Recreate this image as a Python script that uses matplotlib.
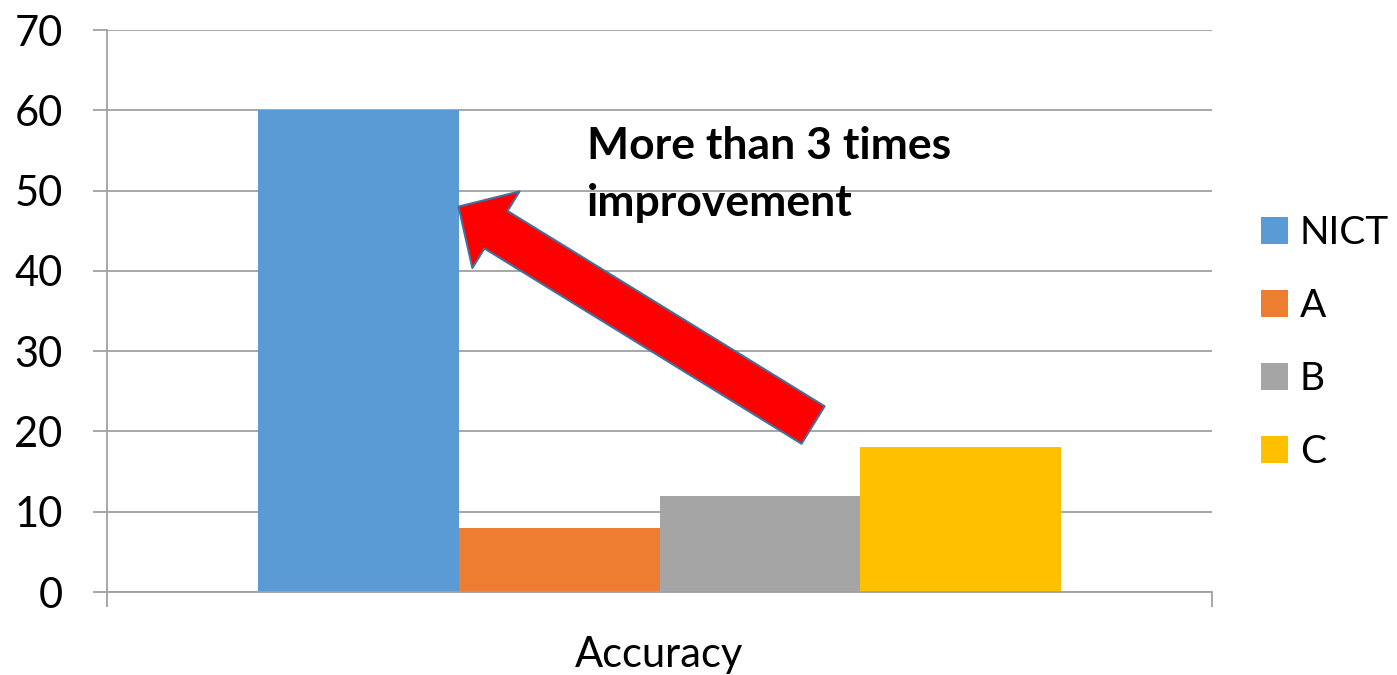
import matplotlib
matplotlib.use('Agg')
import matplotlib.pyplot as plt

categories = ['Accuracy']
series = ['NICT', 'A', 'B', 'C']
values = [60, 8, 12, 18]
colors = ['#5B9BD5', '#ED7D31', '#A5A5A5', '#FFC000']
yticks = [0, 10, 20, 30, 40, 50, 60, 70]
annotation = 'More than 3 times\nimprovement'

plt.rcParams['font.family'] = ['Lato', 'DejaVu Sans']

W, H = 1397, 675
fig = plt.figure(figsize=(W / 100, H / 100), dpi=100)
ax = fig.add_axes([107 / W, 83 / H, 1105 / W, 562 / H])

group_w = 0.7276
bw = group_w / len(series)
for i, (s, v, c) in enumerate(zip(series, values, colors)):
    ax.bar(0 + (i - (len(series) - 1) / 2) * bw, v, width=bw, color=c, label=s, zorder=2)

ax.set_xlim(-0.5, 0.5)
ax.set_ylim(0, 70)
ax.set_yticks(yticks)
ax.yaxis.grid(True, color='#A0A0A0', lw=1.3)
ax.set_axisbelow(True)
ax.set_xticks([-0.5, 0.5])
ax.set_xticklabels(['', ''])
ax.tick_params(axis='x', length=11, width=1.3, color='#A0A0A0', direction='out')
ax.tick_params(axis='y', length=10, width=1.3, color='#A0A0A0', labelsize=30, pad=22)
for sp in ['top', 'right']:
    ax.spines[sp].set_visible(False)
for sp in ['left', 'bottom']:
    ax.spines[sp].set_color('#A0A0A0')
    ax.spines[sp].set_linewidth(1.3)

ax.text(0, -63 / 562, categories[0], transform=ax.get_xaxis_transform(),
        ha='center', va='center', fontsize=30)

# annotation text
ax.text(-0.0656, 52.0, annotation, fontsize=32, fontweight='bold',
        ha='left', va='center', linespacing=1.5)

# arrow from near top of C region to NICT bar
x_tip = -bw
ax.annotate('', xy=(x_tip, 48), xytext=(0.139, 20.8),
            arrowprops=dict(arrowstyle='simple,head_length=31.7,head_width=64.8,tail_width=31.7',
                            mutation_scale=1, fc='#FF0000', ec='#41719C', lw=1.5,
                            shrinkA=0, shrinkB=0), zorder=5)

fig.legend(loc='center left', bbox_to_anchor=(1261 / W, (H - 342.5) / H),
           frameon=False, fontsize=28, handlelength=0.7, handleheight=0.7,
           handletextpad=0.3, labelspacing=0.95, borderpad=0, borderaxespad=0)

fig.savefig('out.png', dpi=100)
